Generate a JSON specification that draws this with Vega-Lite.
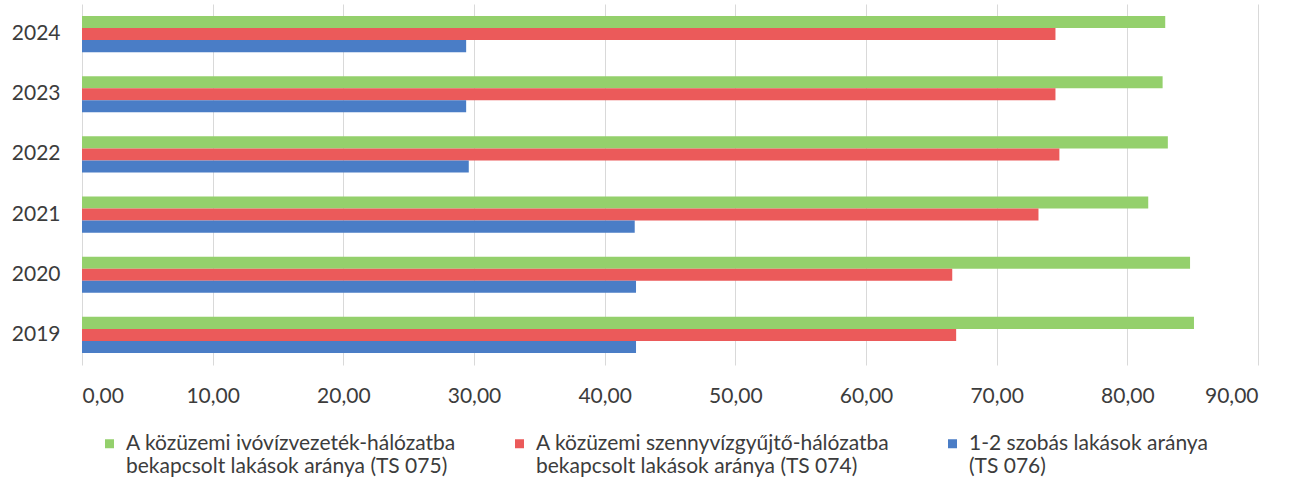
{
  "$schema": "https://vega.github.io/schema/vega-lite/v6.json",
  "width": 1176,
  "height": 361,
  "autosize": {"type": "none"},
  "padding": {"left": 82, "top": 4, "right": 36, "bottom": 128},
  "background": "white",
  "config": {
    "view": {"stroke": null},
    "font": "Lato"
  },
  "data": {
    "values": [
      {"year": "2024", "series": "A közüzemi ivóvízvezeték-hálózatba bekapcsolt lakások aránya (TS 075)", "value": 82.9},
      {"year": "2024", "series": "A közüzemi szennyvízgyűjtő-hálózatba bekapcsolt lakások aránya (TS 074)", "value": 74.5},
      {"year": "2024", "series": "1-2 szobás lakások aránya (TS 076)", "value": 29.4},
      {"year": "2023", "series": "A közüzemi ivóvízvezeték-hálózatba bekapcsolt lakások aránya (TS 075)", "value": 82.7},
      {"year": "2023", "series": "A közüzemi szennyvízgyűjtő-hálózatba bekapcsolt lakások aránya (TS 074)", "value": 74.5},
      {"year": "2023", "series": "1-2 szobás lakások aránya (TS 076)", "value": 29.4},
      {"year": "2022", "series": "A közüzemi ivóvízvezeték-hálózatba bekapcsolt lakások aránya (TS 075)", "value": 83.1},
      {"year": "2022", "series": "A közüzemi szennyvízgyűjtő-hálózatba bekapcsolt lakások aránya (TS 074)", "value": 74.8},
      {"year": "2022", "series": "1-2 szobás lakások aránya (TS 076)", "value": 29.6},
      {"year": "2021", "series": "A közüzemi ivóvízvezeték-hálózatba bekapcsolt lakások aránya (TS 075)", "value": 81.6},
      {"year": "2021", "series": "A közüzemi szennyvízgyűjtő-hálózatba bekapcsolt lakások aránya (TS 074)", "value": 73.2},
      {"year": "2021", "series": "1-2 szobás lakások aránya (TS 076)", "value": 42.3},
      {"year": "2020", "series": "A közüzemi ivóvízvezeték-hálózatba bekapcsolt lakások aránya (TS 075)", "value": 84.8},
      {"year": "2020", "series": "A közüzemi szennyvízgyűjtő-hálózatba bekapcsolt lakások aránya (TS 074)", "value": 66.6},
      {"year": "2020", "series": "1-2 szobás lakások aránya (TS 076)", "value": 42.4},
      {"year": "2019", "series": "A közüzemi ivóvízvezeték-hálózatba bekapcsolt lakások aránya (TS 075)", "value": 85.1},
      {"year": "2019", "series": "A közüzemi szennyvízgyűjtő-hálózatba bekapcsolt lakások aránya (TS 074)", "value": 66.9},
      {"year": "2019", "series": "1-2 szobás lakások aránya (TS 076)", "value": 42.4}
    ]
  },
  "mark": {"type": "bar"},
  "encoding": {
    "y": {
      "field": "year",
      "type": "nominal",
      "sort": "descending",
      "scale": {"paddingInner": 0.4, "paddingOuter": 0.2},
      "axis": {
        "title": null,
        "domain": false,
        "ticks": false,
        "labelPadding": 22,
        "labelFontSize": 21,
        "labelColor": "#3c3c3c",
        "labelFont": "Lato"
      }
    },
    "yOffset": {
      "field": "series",
      "type": "nominal",
      "scale": {
        "domain": [
          "A közüzemi ivóvízvezeték-hálózatba bekapcsolt lakások aránya (TS 075)",
          "A közüzemi szennyvízgyűjtő-hálózatba bekapcsolt lakások aránya (TS 074)",
          "1-2 szobás lakások aránya (TS 076)"
        ],
        "paddingInner": 0,
        "paddingOuter": 0
      }
    },
    "x": {
      "field": "value",
      "type": "quantitative",
      "scale": {"domain": [0, 90], "nice": false},
      "axis": {
        "title": null,
        "values": [0, 10, 20, 30, 40, 50, 60, 70, 80, 90],
        "labelExpr": "replace(format(datum.value, '.2f'), '.', ',')",
        "domain": false,
        "ticks": false,
        "labelPadding": 20,
        "labelFontSize": 21,
        "labelColor": "#3c3c3c",
        "labelFont": "Lato",
        "grid": true,
        "gridColor": "#d9d9d9",
        "gridWidth": 1
      }
    },
    "color": {
      "field": "series",
      "type": "nominal",
      "scale": {
        "domain": [
          "A közüzemi ivóvízvezeték-hálózatba bekapcsolt lakások aránya (TS 075)",
          "A közüzemi szennyvízgyűjtő-hálózatba bekapcsolt lakások aránya (TS 074)",
          "1-2 szobás lakások aránya (TS 076)"
        ],
        "range": ["#94d06c", "#eb5a5a", "#4a7dc6"]
      },
      "legend": {
        "title": null,
        "orient": "none",
        "legendX": 17,
        "legendY": 429,
        "direction": "horizontal",
        "padding": 0,
        "symbolType": "square",
        "symbolSize": 81,
        "symbolStrokeWidth": 0,
        "labelOffset": 6,
        "columnPadding": 52,
        "labelFontSize": 21,
        "labelFont": "Lato",
        "labelColor": "#3c3c3c",
        "labelLimit": 0,
        "labelBaseline": "middle",
        "labelLineHeight": 26,
        "labelExpr": "split(replace(replace(datum.label, ' bekapcsolt', '|bekapcsolt'), ' (TS 076)', '|(TS 076)'), '|')"
      }
    }
  }
}
